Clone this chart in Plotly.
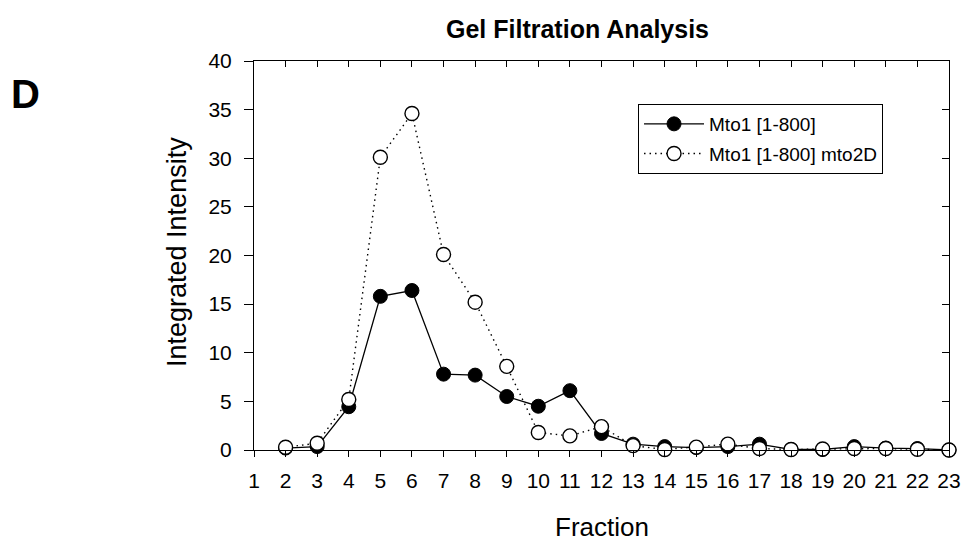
import plotly.graph_objects as go

fractions = list(range(2, 24))
mto1 = [0.2, 0.35, 4.45, 15.8, 16.4, 7.8, 7.7, 5.5, 4.5, 6.1, 1.7, 0.6, 0.35, 0.25, 0.35, 0.6, 0.05, 0.05, 0.35, 0.2, 0.15, 0.0]
mto2d = [0.28, 0.7, 5.2, 30.1, 34.6, 20.1, 15.2, 8.6, 1.8, 1.45, 2.4, 0.45, 0.05, 0.3, 0.6, 0.15, 0.05, 0.1, 0.15, 0.15, 0.07, 0.0]
x_ticks = list(range(1, 24))
y_ticks = list(range(0, 45, 5))

FONT = "Liberation Sans, Arial, sans-serif"
W, H = 973, 543
L, R, T, B = 254, 15, 61, 93
PW, PH = W - L - R, H - T - B


def px_x(px):
    return (px - L) / PW


def px_y(py):
    return (H - B - py) / PH


fig = go.Figure()
fig.add_trace(go.Scatter(
    x=fractions, y=mto1, mode="lines+markers", name="Mto1 [1-800]",
    legendgroup="a",
    line=dict(color="black", width=1.3),
    marker=dict(symbol="circle", size=14, color="black", line=dict(color="black", width=1)),
    cliponaxis=False,
))
fig.add_trace(go.Scatter(
    x=fractions, y=mto2d, mode="lines+markers", name="Mto1 [1-800] mto2D",
    legendgroup="b",
    line=dict(color="black", width=1.4, dash="1.5px,4px"),
    marker=dict(symbol="circle", size=14, color="white", line=dict(color="black", width=1.4)),
    cliponaxis=False,
))
# dummy trace to create mirrored axes with inside ticks
fig.add_trace(go.Scatter(x=[None], y=[None], xaxis="x2", yaxis="y2", showlegend=False, hoverinfo="skip"))

fig.update_layout(
    width=W, height=H,
    margin=dict(l=L, r=R, t=T, b=B),
    plot_bgcolor="white", paper_bgcolor="white",
    font=dict(family=FONT, color="black", size=21),
    xaxis=dict(range=[1, 23], tickvals=x_ticks, ticktext=[str(v) for v in x_ticks],
               ticks="outside", ticklen=6, tickwidth=1, tickcolor="black",
               showline=True, linecolor="black", linewidth=1, showgrid=False, zeroline=False,
               tickfont=dict(size=21), ticklabelstandoff=6),
    yaxis=dict(range=[0, 40], tickvals=y_ticks,
               ticks="outside", ticklen=9, tickwidth=1, tickcolor="black",
               showline=True, linecolor="black", linewidth=1, showgrid=False, zeroline=False,
               tickfont=dict(size=21), ticklabelstandoff=8),
    xaxis2=dict(range=[1, 23], tickvals=x_ticks, overlaying="x", side="top",
                ticks="inside", ticklen=6, tickwidth=1, tickcolor="black",
                showline=True, linecolor="black", linewidth=1, showgrid=False, zeroline=False,
                showticklabels=False),
    yaxis2=dict(range=[0, 40], tickvals=y_ticks, overlaying="y", side="right",
                ticks="inside", ticklen=7, tickwidth=1, tickcolor="black",
                showline=True, linecolor="black", linewidth=1, showgrid=False, zeroline=False,
                showticklabels=False),
    legend=dict(x=px_x(643), y=px_y(104), xanchor="left", yanchor="top",
                bordercolor="black", borderwidth=1, bgcolor="white",
                traceorder="grouped", tracegroupgap=2, itemwidth=60,
                font=dict(size=19)),
    annotations=[
        dict(text="<b>D</b>", xref="paper", yref="paper", x=px_x(23), y=px_y(94),
             xanchor="center", yanchor="middle", showarrow=False, font=dict(size=40)),
        dict(text="<b>Gel Filtration Analysis</b>", xref="paper", yref="paper",
             x=px_x(582), y=px_y(29), xanchor="center", yanchor="middle",
             showarrow=False, font=dict(size=25)),
        dict(text="Integrated Intensity", xref="paper", yref="paper",
             x=px_x(176), y=px_y(252), xanchor="center", yanchor="middle", textangle=-90,
             showarrow=False, font=dict(size=27)),
        dict(text="Fraction", xref="paper", yref="paper",
             x=px_x(606), y=px_y(527), xanchor="center", yanchor="middle",
             showarrow=False, font=dict(size=26)),
    ],
)

fig.write_html("out.html")
